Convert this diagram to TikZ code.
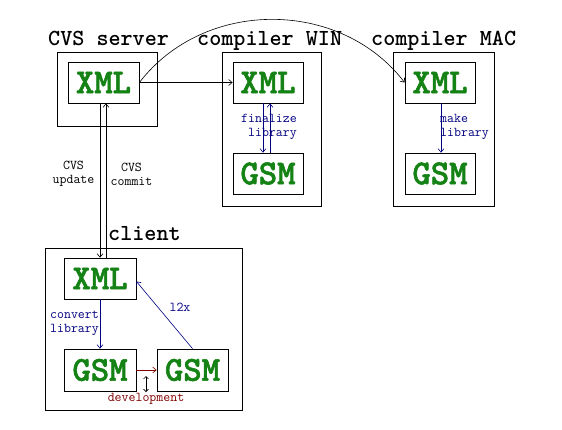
\documentclass[tikz,border=0pt]{standalone}
\usepackage{fontspec}
\setmainfont{Latin Modern Mono}
\newfontfamily\boldtt{lmmonolt10-bold}[Extension=.otf]
\newfontfamily\heavytt{lmmonolt10-bold}[Extension=.otf, FakeBold=1.6]
\usetikzlibrary{arrows.meta,calc}
\definecolor{xgreen}{RGB}{20,130,20}
\definecolor{xblue}{RGB}{0,0,128}
\definecolor{xred}{RGB}{128,0,0}
\tikzset{
  inbox/.style={draw, line width=0.8pt, minimum width=71pt, minimum height=41pt, inner sep=0,
    text=xgreen, font=\heavytt\fontsize{35}{35}\selectfont},
  title/.style={anchor=base west, inner sep=0, font=\boldtt\fontsize{23}{23}\selectfont},
  lbl/.style={inner sep=0, font=\fontsize{13.5}{14}\selectfont},
  conn/.style={line width=0.6pt, -{Straight Barb[length=3.5pt,width=6pt]}},
}
\begin{document}
\begin{tikzpicture}[x=1pt,y=-1pt]
\useasboundingbox (0,0) rectangle (562,429);
% outer boxes
\node[draw, line width=0.8pt, minimum width=100pt, minimum height=74pt, inner sep=0] (cvs) at (107,89) {};
\node[draw, line width=0.8pt, minimum width=99pt, minimum height=154pt, inner sep=0] (win) at (271.5,129) {};
\node[draw, line width=0.8pt, minimum width=101pt, minimum height=154pt, inner sep=0] (mac) at (443.5,129) {};
\node[draw, line width=0.8pt, minimum width=197pt, minimum height=162pt, inner sep=0] (cli) at (143.5,329) {};
% titles
\node[title] (tcvs) at (48,45) {CVS server};
\node[title] (twin) at (197,45) {compiler WIN};
\node[title] (tmac) at (371,45) {compiler MAC};
\node[title] (tcli) at (108,240) {client};
% inner boxes
\node[inbox] (sxml) at (103.5,82.5) {XML};
\node[inbox, minimum width=70pt] (wxml) at (268,82.5) {XML};
\node[inbox, minimum width=70pt] (wgsm) at (268,173.5) {GSM};
\node[inbox, minimum width=70pt] (mxml) at (440,82.5) {XML};
\node[inbox, minimum width=70pt] (mgsm) at (440,173.5) {GSM};
\node[inbox, minimum width=72pt] (cxml) at (100,278.5) {XML};
\node[inbox, minimum width=72pt, minimum height=42pt] (cgsm1) at (100,370) {GSM};
\node[inbox, minimum width=71pt, minimum height=42pt] (cgsm2) at (192.5,370) {GSM};
% server connections
\draw[conn] (sxml.east) -- (wxml.west);
\draw[conn] (sxml.east) .. controls (204,-1.6) and (340,-1.6) .. (mxml.west);
\draw[conn] ([xshift=-3.5pt]sxml.south) -- ([xshift=-3.5pt]sxml.south |- cxml.north);
\draw[conn] ([xshift=6pt]cxml.north) -- ([xshift=6pt]cxml.north |- sxml.south);
\node[lbl, align=center] (lupd) at (73.5,174) {CVS\\update};
\node[lbl, align=center] (lcom) at (131.5,174) {CVS\\commit};
% WIN
\draw[conn, xblue] ([xshift=-5pt]wxml.south) -- ([xshift=-5pt]wxml.south |- wgsm.north);
\draw[conn, xblue] ([xshift=2pt]wgsm.north) -- ([xshift=2pt]wgsm.north |- wxml.south);
\node[lbl, xblue, align=right, anchor=east] (lfin) at (297,127) {finalize\\library};
% MAC
\draw[conn, xblue] ([xshift=1pt]mxml.south) -- ([xshift=1pt]mgsm.north);
\node[lbl, xblue, align=left, anchor=west] (lmak) at (440,127) {make\\library};
% client
\draw[conn, xblue] (cxml.south) -- (cgsm1.north);
\node[lbl, xblue, align=left] (lconv) at (74.5,323) {convert\\library};
\draw[conn, xred] (cgsm1.east) -- (cgsm2.west);
\draw[conn, xblue] (cgsm2.north) -- ([yshift=-3pt]cxml.east);
\node[lbl, xblue] (ll2x) at (180,307) {l2x};
\coordinate (dtop) at (146,376);
\coordinate (dbot) at (146,392);
\draw[line width=0.6pt, {Straight Barb[length=2.5pt,width=5pt]}-{Straight Barb[length=2.5pt,width=5pt]}] (dtop) -- (dbot);
\node[lbl, xred] (ldev) at (146,399) {development};
\end{tikzpicture}
\end{document}
